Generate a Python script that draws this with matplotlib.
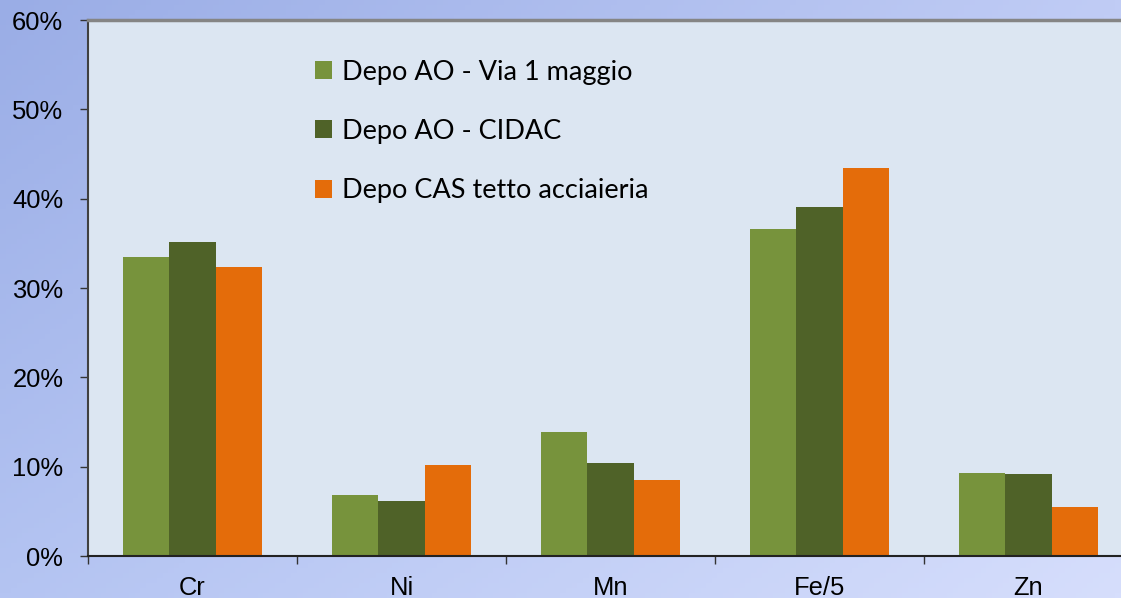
import matplotlib
matplotlib.use("Agg")
import matplotlib.pyplot as plt
import numpy as np
from matplotlib.patches import Patch
from matplotlib.ticker import FuncFormatter, MultipleLocator

# data (percent)
elements = ["Cr", "Ni", "Mn", "Fe/5", "Zn"]
via_maggio = [33.5, 6.8, 13.9, 36.6, 9.3]
cidac = [35.2, 6.2, 10.4, 39.1, 9.2]
cas_tetto = [32.4, 10.2, 8.5, 43.4, 5.5]
series_names = ["Depo AO - Via 1 maggio", "Depo AO - CIDAC", "Depo CAS tetto acciaieria"]
colors = ["#77933C", "#4F6228", "#E46C0A"]

plt.rcParams["font.family"] = "Liberation Sans"

W, H = 1121, 598
fig = plt.figure(figsize=(W / 100, H / 100), dpi=100)

# gradient background of the slide
bg = fig.add_axes([0, 0, 1, 1])
c_tl = np.array([154, 173, 230]) / 255
c_tr = np.array([192, 204, 245]) / 255
c_bl = np.array([180, 196, 242]) / 255
c_br = np.array([214, 222, 252]) / 255
u = np.linspace(0, 1, 200)[None, :, None]
v = np.linspace(0, 1, 120)[:, None, None]
img = (1 - v) * ((1 - u) * c_tl + u * c_tr) + v * ((1 - u) * c_bl + u * c_br)
bg.imshow(img, aspect="auto", extent=[0, 1, 0, 1], origin="upper")
bg.axis("off")

ax = fig.add_axes([88 / W, 1 - 556 / H, 1045 / W, 536 / H])
ax.set_facecolor("#DCE6F2")

x = np.arange(len(elements))
bw = 0.222
for i, (vals, name, col) in enumerate(zip([via_maggio, cidac, cas_tetto], series_names, colors)):
    ax.bar(x + (i - 1) * bw, vals, width=bw, color=col, label=name, zorder=2)

ax.set_xlim(-0.5, len(elements) - 0.5)
ax.set_ylim(0, 60)
ax.yaxis.set_major_locator(MultipleLocator(10))
ax.yaxis.set_major_formatter(FuncFormatter(lambda v, p: f"{v:.0f}%"))

ax.set_xticks(x)
ax.set_xticklabels(elements)
ax.set_xticks(np.arange(-0.5, len(elements), 1), minor=True)
ax.tick_params(axis="x", which="major", length=0, pad=14.5, labelsize=18.4)
ax.tick_params(axis="x", which="minor", length=5.8, width=1, color="#333333", direction="out")
ax.tick_params(axis="y", length=5.8, width=1, color="#333333", direction="out", pad=12,
               labelsize=18.4)

ax.spines["left"].set_color("#404040")
ax.spines["left"].set_linewidth(1.5)
ax.spines["bottom"].set_color("#222222")
ax.spines["bottom"].set_linewidth(1.5)
ax.spines["top"].set_color("#858585")
ax.spines["top"].set_linewidth(2.5)
ax.spines["right"].set_visible(False)

handles = [Patch(facecolor=c, edgecolor="none") for c in colors]
ax.legend(handles, series_names, loc="upper left", bbox_to_anchor=(301 / W, 1 - 46 / H),
          bbox_transform=fig.transFigure, frameon=False, handlelength=0.65, handleheight=0.65,
          handletextpad=0.35, labelspacing=1.27, borderpad=0,
          prop={"family": "Lato", "size": 19.5})

fig.savefig("out.png", dpi=100)
